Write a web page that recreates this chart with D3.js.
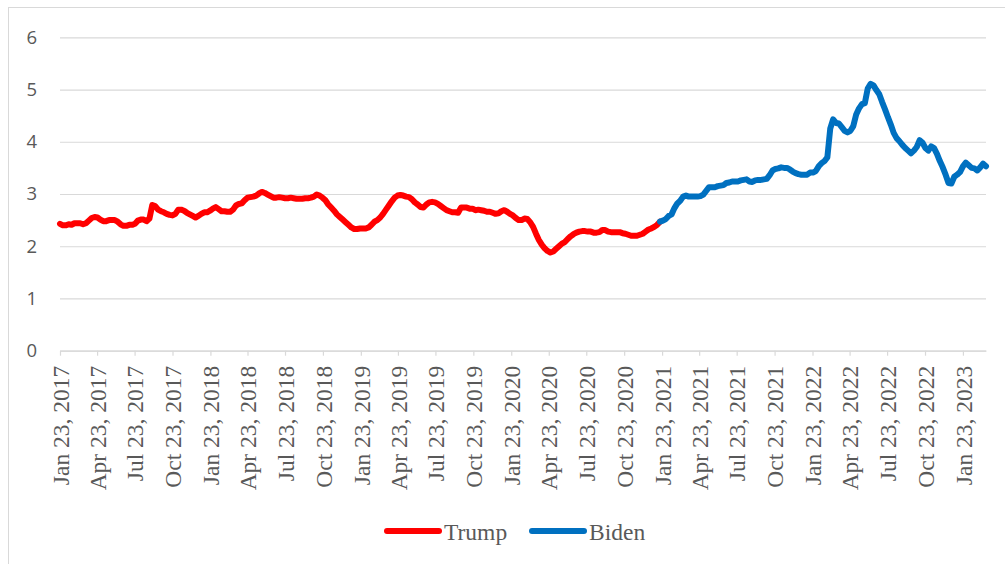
<!DOCTYPE html>
<html>
<head>
<meta charset="utf-8">
<script src="https://cdn.jsdelivr.net/npm/d3@7"></script>
<style>
  html, body { margin: 0; padding: 0; background: #ffffff; }
  svg { display: block; }
</style>
</head>
<body>
<svg id="chart" width="1005" height="564"></svg>
<script>
// Weekly average retail gasoline price (all grades, $/gallon), one value per Monday.
const trumpStart = "2017-01-23";
const trumpPrices = [
  // 2017
  2.43, 2.40, 2.40, 2.42, 2.41, 2.44, 2.44, 2.44, 2.42, 2.44,
  2.49, 2.54, 2.56, 2.55, 2.51, 2.48, 2.48, 2.50, 2.50, 2.50,
  2.47, 2.42, 2.39, 2.39, 2.41, 2.41, 2.43, 2.49, 2.51, 2.51,
  2.48, 2.53, 2.79, 2.77, 2.70, 2.67, 2.65, 2.62, 2.60, 2.59,
  2.62, 2.70, 2.70, 2.68, 2.64, 2.61, 2.58, 2.55, 2.58,
  // 2018
  2.62, 2.65, 2.65, 2.68, 2.72, 2.75, 2.71, 2.67, 2.67, 2.66,
  2.66, 2.70, 2.78, 2.81, 2.82, 2.88, 2.93, 2.94, 2.95, 2.97,
  3.01, 3.04, 3.02, 2.99, 2.96, 2.93, 2.93, 2.94, 2.93, 2.92,
  2.92, 2.93, 2.92, 2.91, 2.91, 2.91, 2.92, 2.92, 2.93, 2.95,
  2.99, 2.97, 2.93, 2.88, 2.80, 2.74, 2.68, 2.61, 2.56, 2.51,
  2.46, 2.41, 2.36,
  // 2019
  2.33, 2.33, 2.34, 2.34, 2.34, 2.36, 2.41, 2.47, 2.50, 2.55,
  2.62, 2.70, 2.78, 2.86, 2.93, 2.97, 2.98, 2.97, 2.95, 2.94,
  2.90, 2.84, 2.80, 2.75, 2.74, 2.80, 2.84, 2.85, 2.84, 2.81,
  2.77, 2.73, 2.69, 2.67, 2.65, 2.65, 2.64, 2.74, 2.74, 2.74,
  2.72, 2.72, 2.69, 2.70, 2.69, 2.68, 2.66, 2.66, 2.64, 2.62,
  2.63, 2.67,
  // 2020 - Jan 2021
  2.69, 2.66, 2.62, 2.59, 2.54, 2.50, 2.50, 2.53, 2.52, 2.46,
  2.37, 2.24, 2.12, 2.03, 1.96, 1.91, 1.88, 1.90, 1.95, 2.00,
  2.05, 2.08, 2.14, 2.19, 2.23, 2.26, 2.28, 2.29, 2.29, 2.28,
  2.28, 2.26, 2.26, 2.27, 2.31, 2.31, 2.28, 2.27, 2.27, 2.27,
  2.27, 2.25, 2.24, 2.22, 2.20, 2.20, 2.20, 2.22, 2.24, 2.28,
  2.32, 2.34, 2.37, 2.41, 2.47
];

const bidenStart = "2021-01-18";
const bidenPrices = [
  2.47, 2.49, 2.52, 2.58, 2.61, 2.73, 2.82, 2.87, 2.95, 2.97,
  2.95, 2.95, 2.95, 2.95, 2.96, 2.99, 3.06, 3.13, 3.13, 3.13,
  3.15, 3.16, 3.17, 3.21, 3.22, 3.24, 3.24, 3.24, 3.26, 3.27,
  3.28, 3.24, 3.23, 3.26, 3.27, 3.27, 3.28, 3.29, 3.36, 3.45,
  3.48, 3.49, 3.51, 3.50, 3.50, 3.47, 3.43, 3.40, 3.38, 3.37,
  // 2022
  3.37, 3.37, 3.41, 3.41, 3.44, 3.53, 3.59, 3.63, 3.70, 4.25,
  4.43, 4.36, 4.35, 4.28, 4.21, 4.18, 4.21, 4.30, 4.52, 4.64,
  4.72, 4.74, 5.02, 5.11, 5.08, 4.99, 4.91, 4.76, 4.62, 4.47,
  4.33, 4.17, 4.07, 4.01, 3.94, 3.88, 3.83, 3.78, 3.83, 3.90,
  4.03, 3.98, 3.88, 3.83, 3.91, 3.88, 3.77, 3.63, 3.51, 3.37,
  3.21, 3.20,
  // 2023
  3.33, 3.37, 3.42, 3.53, 3.60, 3.55, 3.50, 3.49, 3.45, 3.51,
  3.58, 3.53
];

const tickLabels = [
  "Jan 23, 2017", "Apr 23, 2017", "Jul 23, 2017", "Oct 23, 2017",
  "Jan 23, 2018", "Apr 23, 2018", "Jul 23, 2018", "Oct 23, 2018",
  "Jan 23, 2019", "Apr 23, 2019", "Jul 23, 2019", "Oct 23, 2019",
  "Jan 23, 2020", "Apr 23, 2020", "Jul 23, 2020", "Oct 23, 2020",
  "Jan 23, 2021", "Apr 23, 2021", "Jul 23, 2021", "Oct 23, 2021",
  "Jan 23, 2022", "Apr 23, 2022", "Jul 23, 2022", "Oct 23, 2022",
  "Jan 23, 2023"
];
const yTicks = [0, 1, 2, 3, 4, 5, 6];
const seriesNames = ["Trump", "Biden"];
const seriesColors = ["#FF0000", "#0070C0"];

// ---------------------------------------------------------------
const svg = d3.select("#chart");
const plot = { left: 60, right: 986, top: 37.3, bottom: 350.7 };
const gridColor = "#D9D9D9";
const textColor = "#595959";

const parseISO = d3.utcParse("%Y-%m-%d");
const parseTick = d3.utcParse("%b %d, %Y");
const weekly = (start, values) =>
  values.map((v, i) => ({ date: d3.utcDay.offset(parseISO(start), 7 * i), value: v }));

const series = [weekly(trumpStart, trumpPrices), weekly(bidenStart, bidenPrices)];
const lastSeries = series[series.length - 1];

const x = d3.scaleUtc()
  .domain([series[0][0].date, lastSeries[lastSeries.length - 1].date])
  .range([plot.left, plot.right]);
const y = d3.scaleLinear().domain([0, 6]).range([plot.bottom, plot.top]);

// chart area frame
svg.append("rect")
  .attr("x", 8.5).attr("y", 7.5)
  .attr("width", 1010).attr("height", 570)
  .attr("fill", "#ffffff").attr("stroke", gridColor).attr("stroke-width", 1);

// value axis with horizontal gridlines
const yAxis = svg.append("g")
  .attr("transform", `translate(${plot.left},0)`)
  .call(d3.axisLeft(y).tickValues(yTicks).tickFormat(d3.format("d"))
    .tickSize(-(plot.right - plot.left)).tickPadding(23));
yAxis.select(".domain").remove();
yAxis.selectAll(".tick line").attr("stroke", gridColor).attr("stroke-width", 1.2);
yAxis.selectAll(".tick text")
  .attr("fill", textColor)
  .style("font-family", "'Open Sans', 'Noto Sans', sans-serif")
  .style("font-size", "18.5px");

// date axis
const tickDates = tickLabels.map(parseTick);
const xAxis = svg.append("g")
  .attr("transform", `translate(0,${plot.bottom})`)
  .call(d3.axisBottom(x).tickValues(tickDates).tickSizeInner(5).tickSizeOuter(0)
    .tickFormat((d, i) => tickLabels[i]));
xAxis.select(".domain").attr("stroke", gridColor).attr("stroke-width", 1.2);
xAxis.selectAll(".tick line").attr("stroke", gridColor).attr("stroke-width", 1.2);
xAxis.selectAll(".tick text")
  .attr("transform", "rotate(-90)")
  .attr("text-anchor", "end")
  .attr("x", -15).attr("y", 0).attr("dy", "0.35em")
  .attr("fill", textColor)
  .style("font-family", "'Liberation Serif', 'Times New Roman', serif")
  .style("font-size", "23.5px");

// price lines
const line = d3.line().x(d => x(d.date)).y(d => y(d.value));
series.forEach((s, i) => {
  svg.append("path")
    .datum(s)
    .attr("fill", "none")
    .attr("stroke", seriesColors[i])
    .attr("stroke-width", 6)
    .attr("stroke-linejoin", "round")
    .attr("stroke-linecap", "round")
    .attr("d", line);
});

// legend
const legendItems = [{ x: 385 }, { x: 530 }];
const legend = svg.append("g");
seriesNames.forEach((name, i) => {
  const lx = legendItems[i].x;
  legend.append("line")
    .attr("x1", lx + 2).attr("x2", lx + 54)
    .attr("y1", 531).attr("y2", 531)
    .attr("stroke", seriesColors[i]).attr("stroke-width", 6)
    .attr("stroke-linecap", "round");
  legend.append("text")
    .attr("x", lx + 59).attr("y", 539.5)
    .attr("fill", textColor)
    .style("font-family", "'Liberation Serif', 'Times New Roman', serif")
    .style("font-size", "23.5px")
    .text(name);
});
</script>
</body>
</html>
